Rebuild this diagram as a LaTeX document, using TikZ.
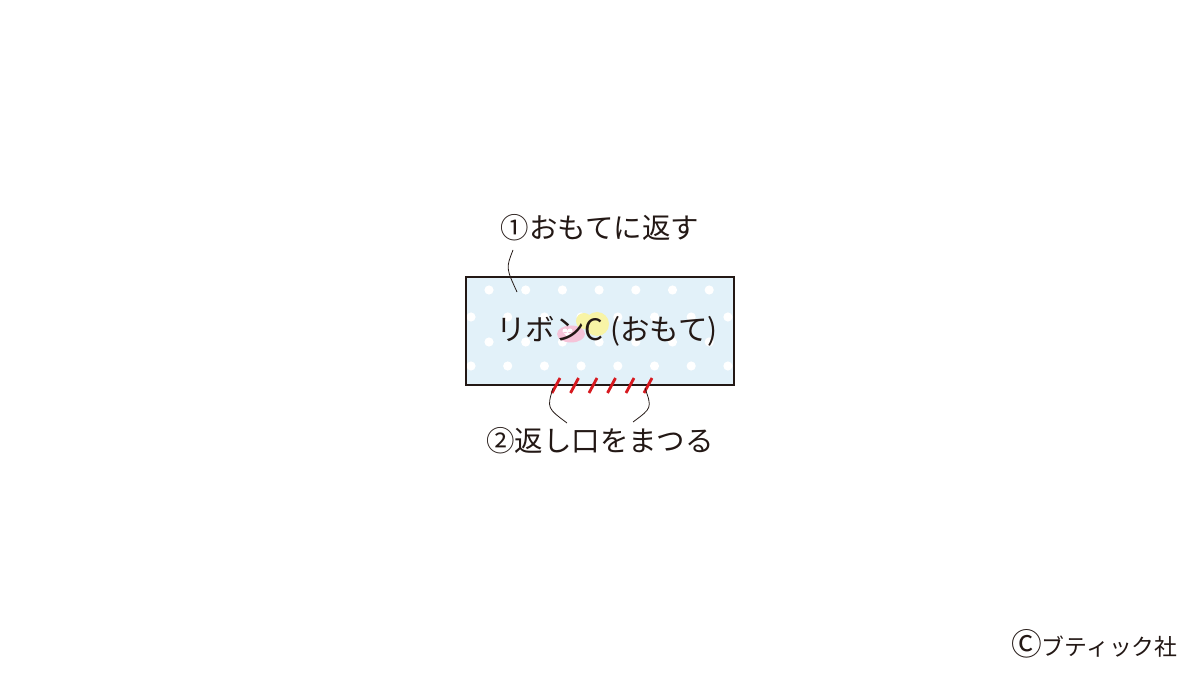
\documentclass[tikz,border=0pt]{standalone}
\usepackage{fontspec}
\newfontfamily\jpfont{Noto Sans CJK JP}
\definecolor{ribbonblue}{HTML}{E2F1F9}
\definecolor{stitchred}{HTML}{D7191F}
\definecolor{lineg}{HTML}{231815}
\definecolor{blobpink}{HTML}{F5C3D8}
\definecolor{blobyellow}{HTML}{F8F4A6}
\begin{document}
\begin{tikzpicture}[x=0.02cm,y=-0.02cm,
    label/.style={font=\jpfont\fontsize{16.2}{16.2}\selectfont, text=lineg, inner sep=0pt},
    leader/.style={draw=lineg, line width=0.45pt},
    stitch/.style={draw=stitchred, line width=1.6pt}]
  \useasboundingbox (0,0) rectangle (1200,675);
  \coordinate (NW) at (466,277);
  \coordinate (SE) at (734,385);
  % ribbon
  \fill[ribbonblue] (NW) rectangle (SE);
  \begin{scope}
    \clip (NW) rectangle (SE);
    \foreach \y/\xs in {290/489,317/471,342/489,366/471,390/489}
      \foreach \k in {0,...,7}
        \fill[white] (\xs+36.7*\k,\y) circle (4.6);
  \end{scope}
  \fill[blobyellow] (584,321) circle (8) (597,324) circle (12);
  \fill[blobpink] (571,334) ellipse (14 and 8.5);
  \fill[white] (565,331) circle (2.5) (570,331) circle (2.5) (562.6,332) -- (567.5,337) -- (572.4,332) -- cycle;
  \draw[lineg, line width=0.7pt] (NW) rectangle (SE);
  \node[label, font=\jpfont\fontsize{16.8}{16.8}\selectfont] (ribbon) at (607,331) {リボンC (おもて)};
  % stitches
  \foreach \x in {556,574.5,593,611.5,630,648}
    \draw[stitch] (\x-4,393) -- (\x+4,378);
  % labels
  \node[label] (turn) at (600,228) {①おもてに返す};
  \node[label] (sew) at (600,441) {②返し口をまつる};
  \node[label, font=\jpfont\fontsize{13}{13}\selectfont, anchor=east] (copy) at (1178,644) {{\fontsize{17.5}{17.5}\selectfont Ⓒ}ブティック社};
  % leaders
  \coordinate (turn end) at (517,292);
  \coordinate (turn start) at (513,250);
  \coordinate (sew left) at (553,388);
  \coordinate (sew right) at (645,388);
  \coordinate (sew lefttop) at (567,423);
  \coordinate (sew righttop) at (633,422);
  \draw[leader] (turn start) .. controls (506,268) .. (turn end);
  \draw[leader] (sew left) .. controls (547,408) .. (sew lefttop);
  \draw[leader] (sew right) .. controls (652,408) .. (sew righttop);
\end{tikzpicture}
\end{document}
